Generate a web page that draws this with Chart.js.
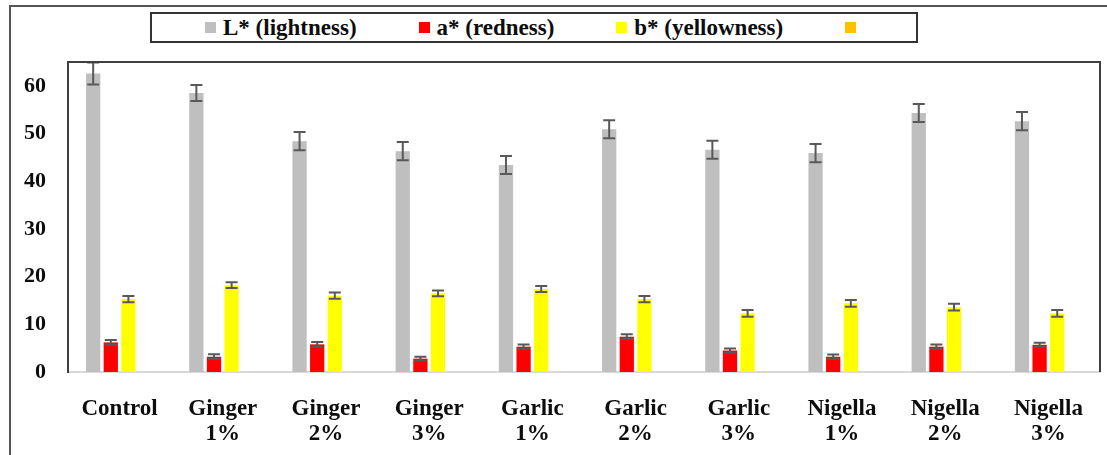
<!DOCTYPE html>
<html>
<head>
<meta charset="utf-8">
<script src="https://cdn.jsdelivr.net/npm/chart.js@4.4.1/dist/chart.umd.min.js"></script>
<style>
  body { margin: 0; background: #fff; }
  #wrap { position: relative; width: 1107px; height: 455px; overflow: hidden; }
  #frame { position: absolute; left: 9px; top: 5px; width: 1110px; height: 470px;
           border-top: 2px solid #555; border-left: 2px solid #555; }
  #legend { position: absolute; left: 150px; top: 12px; width: 768px; height: 31px;
            border: 2px solid #333; display: flex; align-items: center;
            padding-left: 53px; box-sizing: border-box; gap: 62px;
            font-family: "Liberation Serif", "DejaVu Serif", "Noto Serif", "Times New Roman", serif;
            font-weight: bold; font-size: 23px; color: #0d0d0d; }
  #legend .item { display: flex; align-items: center; gap: 7px; line-height: 26px; white-space: nowrap; }
  #legend .sw { width: 11px; height: 11px; display: inline-block; }
  canvas { position: absolute; left: 0; top: 0; }
</style>
</head>
<body>
<div id="wrap">
  <div id="frame"></div>
  <div id="legend"></div>
  <canvas id="chart" width="1107" height="455"></canvas>
</div>
<script>
// ===== data =====
const categories = ['Control', ['Ginger', '1%'], ['Ginger', '2%'], ['Ginger', '3%'],
  ['Garlic', '1%'], ['Garlic', '2%'], ['Garlic', '3%'],
  ['Nigella', '1%'], ['Nigella', '2%'], ['Nigella', '3%']]

const lightness = [62.6, 58.5, 48.4, 46.3, 43.4, 50.9, 46.6, 45.9, 54.3, 52.6]
const lightnessErr = [2.3, 1.7, 1.9, 1.9, 1.9, 1.9, 1.9, 1.9, 1.9, 1.9]
const redness = [6.2, 3.2, 5.8, 2.8, 5.3, 7.4, 4.5, 3.2, 5.3, 5.7]
const rednessErr = [0.5, 0.5, 0.5, 0.4, 0.45, 0.5, 0.45, 0.45, 0.45, 0.45]
const yellowness = [15.3, 18.2, 16.0, 16.5, 17.4, 15.3, 12.3, 14.4, 13.6, 12.3]
const yellownessErr = [0.65, 0.6, 0.65, 0.6, 0.65, 0.65, 0.7, 0.7, 0.7, 0.7]
const emptySeries = [null, null, null, null, null, null, null, null, null, null]

const yTicks = [0, 10, 20, 30, 40, 50, 60]

const serif = '"Liberation Serif", "DejaVu Serif", "Noto Serif", "Times New Roman", serif'

// error bars drawn from each dataset's errors array
const errorBars = {
  id: 'errorBars',
  afterDatasetsDraw(chart) {
    const { ctx, scales: { y } } = chart
    ctx.save()
    ctx.strokeStyle = '#595959'
    ctx.lineWidth = 2
    chart.data.datasets.forEach((ds, i) => {
      if (!ds.errors) return
      const meta = chart.getDatasetMeta(i)
      meta.data.forEach((bar, j) => {
        const v = ds.data[j], e = ds.errors[j]
        if (v == null) return
        const top = y.getPixelForValue(v + e)
        const bot = y.getPixelForValue(v - e)
        const half = 6
        ctx.beginPath()
        ctx.moveTo(bar.x, top); ctx.lineTo(bar.x, bot)
        ctx.moveTo(bar.x - half, top); ctx.lineTo(bar.x + half, top)
        ctx.moveTo(bar.x - half, bot); ctx.lineTo(bar.x + half, bot)
        ctx.stroke()
      })
    })
    ctx.restore()
  }
}

// top and right edges of the plot box
const plotBox = {
  id: 'plotBox',
  afterDraw(chart) {
    const { ctx, chartArea: a } = chart
    ctx.save()
    ctx.strokeStyle = '#404040'
    ctx.lineWidth = 2
    ctx.beginPath()
    ctx.moveTo(a.left, a.top); ctx.lineTo(a.right, a.top); ctx.lineTo(a.right, a.bottom)
    ctx.stroke()
    ctx.restore()
  }
}

// html legend from the datasets
const htmlLegend = {
  id: 'htmlLegend',
  afterUpdate(chart) {
    const box = document.getElementById('legend')
    box.innerHTML = chart.data.datasets.map(ds =>
      `<span class="item"><span class="sw" style="background:${ds.backgroundColor}"></span>${ds.label ? `<span>${ds.label}</span>` : ''}</span>`
    ).join('')
  }
}

new Chart(document.getElementById('chart'), {
  type: 'bar',
  data: {
    labels: categories,
    datasets: [
      { label: 'L* (lightness)', data: lightness, errors: lightnessErr, backgroundColor: '#bfbfbf' },
      { label: 'a* (redness)', data: redness, errors: rednessErr, backgroundColor: '#ff0000' },
      { label: 'b* (yellowness)', data: yellowness, errors: yellownessErr, backgroundColor: '#ffff00' },
      { label: '', data: emptySeries, backgroundColor: '#ffc000' },
    ]
  },
  options: {
    responsive: false,
    animation: false,
    layout: { padding: { top: 62, right: 2, left: 0, bottom: 0 } },
    datasets: { bar: { categoryPercentage: 0.683, barPercentage: 0.81, borderWidth: 0 } },
    plugins: { legend: { display: false }, tooltip: { enabled: false } },
    scales: {
      x: {
        grid: { display: false, drawTicks: false },
        border: { display: true, color: '#d9d9d9', width: 2 },
        ticks: { color: '#0d0d0d', padding: 24, maxRotation: 0, autoSkip: false,
                 font: { family: serif, size: 23, weight: 'bold', lineHeight: 1.1 } },
        afterFit(scale) { scale.height = 83 }
      },
      y: {
        min: 0, max: 65,
        grid: { display: false, drawTicks: false },
        border: { display: true, color: '#404040', width: 2 },
        ticks: { stepSize: 10, color: '#0d0d0d', padding: 22,
                 font: { family: serif, size: 22, weight: 'bold' } },
        afterBuildTicks(scale) { scale.ticks = yTicks.map(v => ({ value: v })) },
        afterFit(scale) { scale.width = 68 }
      }
    }
  },
  plugins: [errorBars, plotBox, htmlLegend]
})
</script>
</body>
</html>
